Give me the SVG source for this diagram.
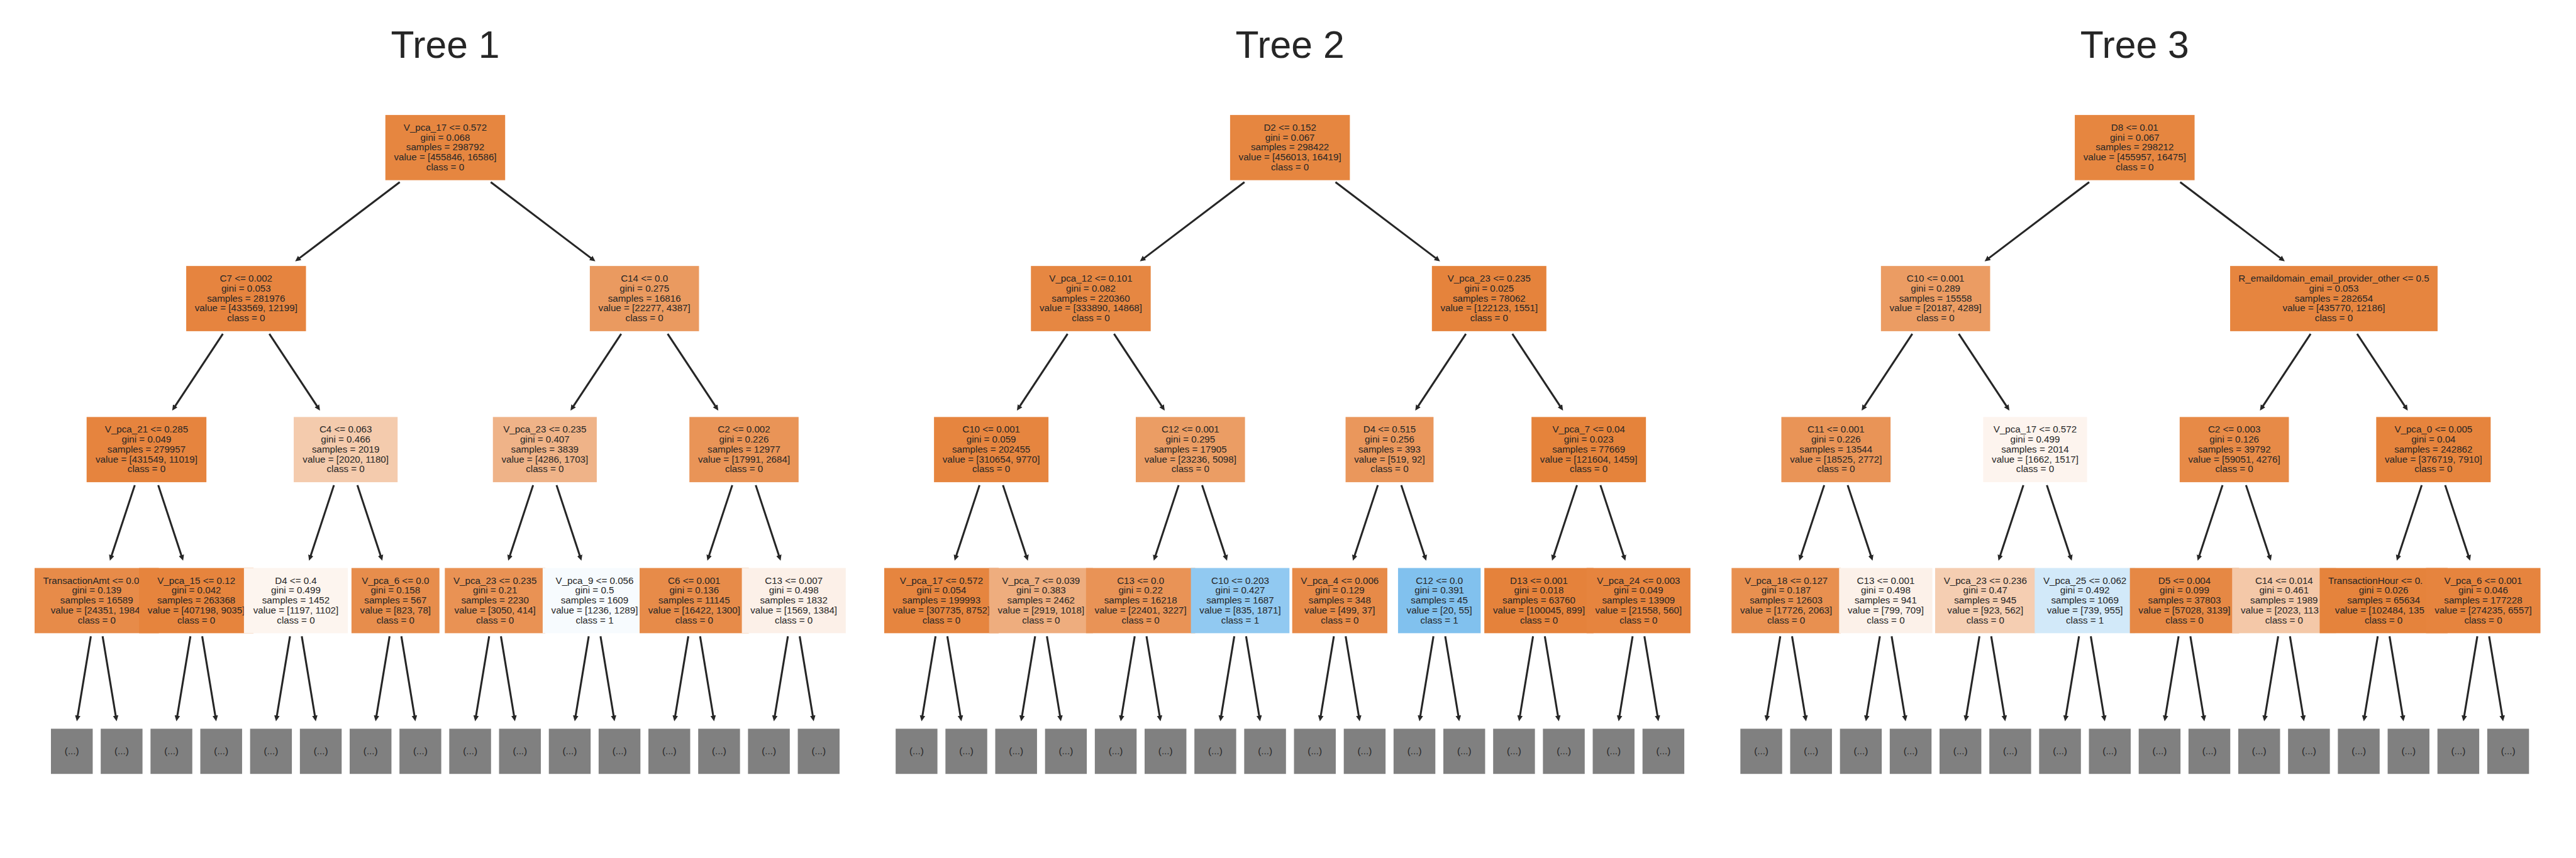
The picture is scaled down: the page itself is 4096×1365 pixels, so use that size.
<svg xmlns="http://www.w3.org/2000/svg" width="4096" height="1365" viewBox="0 0 4096 1365">
<style>
.t{font-family:"Liberation Sans",Arial,sans-serif;font-size:16.67px;fill:#262626;text-anchor:middle}
.s{text-anchor:start}
.title{font-family:"Liberation Sans",Arial,sans-serif;font-size:66.67px;fill:#262626;text-anchor:middle}
.lf{fill:#808080}
.e{stroke:#262626;stroke-width:3.4;fill:none;marker-end:url(#ah)}
</style>
<defs>
<marker id="ah" markerUnits="userSpaceOnUse" markerWidth="12" markerHeight="12" viewBox="0 -6 12 12" refX="1" refY="0" orient="auto"><path d="M0,-4.8 L10,0 L0,4.8 z" fill="#262626"/></marker>
</defs>
<rect width="4096" height="1365" fill="#ffffff"/>
<g transform="scale(0.91)">
<g id="titles">
<text class="title" x="778" y="101">Tree 1</text>
<text class="title" x="2254" y="101">Tree 2</text>
<text class="title" x="3730" y="101">Tree 3</text>
</g>
<g id="connectors">
<g id="t1-edges" transform="translate(778,0)">
<line class="e" x1="-79.5" y1="318.3" x2="-255.1" y2="451.5"/><line class="e" x1="79.5" y1="318.3" x2="255.1" y2="451.5"/>
<line class="e" x1="-388.6" y1="583.6" x2="-472.2" y2="710.4"/><line class="e" x1="-307.4" y1="583.6" x2="-223.8" y2="710.4"/><line class="e" x1="307.4" y1="583.6" x2="223.8" y2="710.4"/><line class="e" x1="388.6" y1="583.6" x2="472.2" y2="710.4"/>
<line class="e" x1="-542.5" y1="848.2" x2="-583.2" y2="971.8"/><line class="e" x1="-501.5" y1="848.2" x2="-460.8" y2="971.8"/><line class="e" x1="-194.5" y1="848.2" x2="-235.2" y2="971.8"/><line class="e" x1="-153.5" y1="848.2" x2="-112.8" y2="971.8"/><line class="e" x1="153.5" y1="848.2" x2="112.8" y2="971.8"/><line class="e" x1="194.5" y1="848.2" x2="235.2" y2="971.8"/><line class="e" x1="501.5" y1="848.2" x2="460.8" y2="971.8"/><line class="e" x1="542.5" y1="848.2" x2="583.2" y2="971.8"/>
<line class="e" x1="-619.3" y1="1112.4" x2="-642.3" y2="1252"/><line class="e" x1="-598.7" y1="1112.4" x2="-575.7" y2="1252"/><line class="e" x1="-445.3" y1="1112.4" x2="-468.3" y2="1252"/><line class="e" x1="-424.7" y1="1112.4" x2="-401.7" y2="1252"/><line class="e" x1="-271.3" y1="1112.4" x2="-294.3" y2="1252"/><line class="e" x1="-250.7" y1="1112.4" x2="-227.7" y2="1252"/><line class="e" x1="-97.3" y1="1112.4" x2="-120.3" y2="1252"/><line class="e" x1="-76.7" y1="1112.4" x2="-53.7" y2="1252"/><line class="e" x1="76.7" y1="1112.4" x2="53.7" y2="1252"/><line class="e" x1="97.3" y1="1112.4" x2="120.3" y2="1252"/><line class="e" x1="250.7" y1="1112.4" x2="227.7" y2="1252"/><line class="e" x1="271.3" y1="1112.4" x2="294.3" y2="1252"/><line class="e" x1="424.7" y1="1112.4" x2="401.7" y2="1252"/><line class="e" x1="445.3" y1="1112.4" x2="468.3" y2="1252"/><line class="e" x1="598.7" y1="1112.4" x2="575.7" y2="1252"/><line class="e" x1="619.3" y1="1112.4" x2="642.3" y2="1252"/>
</g>
<g id="t2-edges" transform="translate(2254,0)">
<line class="e" x1="-79.5" y1="318.3" x2="-255.1" y2="451.5"/><line class="e" x1="79.5" y1="318.3" x2="255.1" y2="451.5"/>
<line class="e" x1="-388.6" y1="583.6" x2="-472.2" y2="710.4"/><line class="e" x1="-307.4" y1="583.6" x2="-223.8" y2="710.4"/><line class="e" x1="307.4" y1="583.6" x2="223.8" y2="710.4"/><line class="e" x1="388.6" y1="583.6" x2="472.2" y2="710.4"/>
<line class="e" x1="-542.5" y1="848.2" x2="-583.2" y2="971.8"/><line class="e" x1="-501.5" y1="848.2" x2="-460.8" y2="971.8"/><line class="e" x1="-194.5" y1="848.2" x2="-235.2" y2="971.8"/><line class="e" x1="-153.5" y1="848.2" x2="-112.8" y2="971.8"/><line class="e" x1="153.5" y1="848.2" x2="112.8" y2="971.8"/><line class="e" x1="194.5" y1="848.2" x2="235.2" y2="971.8"/><line class="e" x1="501.5" y1="848.2" x2="460.8" y2="971.8"/><line class="e" x1="542.5" y1="848.2" x2="583.2" y2="971.8"/>
<line class="e" x1="-619.3" y1="1112.4" x2="-642.3" y2="1252"/><line class="e" x1="-598.7" y1="1112.4" x2="-575.7" y2="1252"/><line class="e" x1="-445.3" y1="1112.4" x2="-468.3" y2="1252"/><line class="e" x1="-424.7" y1="1112.4" x2="-401.7" y2="1252"/><line class="e" x1="-271.3" y1="1112.4" x2="-294.3" y2="1252"/><line class="e" x1="-250.7" y1="1112.4" x2="-227.7" y2="1252"/><line class="e" x1="-97.3" y1="1112.4" x2="-120.3" y2="1252"/><line class="e" x1="-76.7" y1="1112.4" x2="-53.7" y2="1252"/><line class="e" x1="76.7" y1="1112.4" x2="53.7" y2="1252"/><line class="e" x1="97.3" y1="1112.4" x2="120.3" y2="1252"/><line class="e" x1="250.7" y1="1112.4" x2="227.7" y2="1252"/><line class="e" x1="271.3" y1="1112.4" x2="294.3" y2="1252"/><line class="e" x1="424.7" y1="1112.4" x2="401.7" y2="1252"/><line class="e" x1="445.3" y1="1112.4" x2="468.3" y2="1252"/><line class="e" x1="598.7" y1="1112.4" x2="575.7" y2="1252"/><line class="e" x1="619.3" y1="1112.4" x2="642.3" y2="1252"/>
</g>
<g id="t3-edges" transform="translate(3730,0)">
<line class="e" x1="-79.5" y1="318.3" x2="-255.1" y2="451.5"/><line class="e" x1="79.5" y1="318.3" x2="255.1" y2="451.5"/>
<line class="e" x1="-388.6" y1="583.6" x2="-472.2" y2="710.4"/><line class="e" x1="-307.4" y1="583.6" x2="-223.8" y2="710.4"/><line class="e" x1="307.4" y1="583.6" x2="223.8" y2="710.4"/><line class="e" x1="388.6" y1="583.6" x2="472.2" y2="710.4"/>
<line class="e" x1="-542.5" y1="848.2" x2="-583.2" y2="971.8"/><line class="e" x1="-501.5" y1="848.2" x2="-460.8" y2="971.8"/><line class="e" x1="-194.5" y1="848.2" x2="-235.2" y2="971.8"/><line class="e" x1="-153.5" y1="848.2" x2="-112.8" y2="971.8"/><line class="e" x1="153.5" y1="848.2" x2="112.8" y2="971.8"/><line class="e" x1="194.5" y1="848.2" x2="235.2" y2="971.8"/><line class="e" x1="501.5" y1="848.2" x2="460.8" y2="971.8"/><line class="e" x1="542.5" y1="848.2" x2="583.2" y2="971.8"/>
<line class="e" x1="-619.3" y1="1112.4" x2="-642.3" y2="1252"/><line class="e" x1="-598.7" y1="1112.4" x2="-575.7" y2="1252"/><line class="e" x1="-445.3" y1="1112.4" x2="-468.3" y2="1252"/><line class="e" x1="-424.7" y1="1112.4" x2="-401.7" y2="1252"/><line class="e" x1="-271.3" y1="1112.4" x2="-294.3" y2="1252"/><line class="e" x1="-250.7" y1="1112.4" x2="-227.7" y2="1252"/><line class="e" x1="-97.3" y1="1112.4" x2="-120.3" y2="1252"/><line class="e" x1="-76.7" y1="1112.4" x2="-53.7" y2="1252"/><line class="e" x1="76.7" y1="1112.4" x2="53.7" y2="1252"/><line class="e" x1="97.3" y1="1112.4" x2="120.3" y2="1252"/><line class="e" x1="250.7" y1="1112.4" x2="227.7" y2="1252"/><line class="e" x1="271.3" y1="1112.4" x2="294.3" y2="1252"/><line class="e" x1="424.7" y1="1112.4" x2="401.7" y2="1252"/><line class="e" x1="445.3" y1="1112.4" x2="468.3" y2="1252"/><line class="e" x1="598.7" y1="1112.4" x2="575.7" y2="1252"/><line class="e" x1="619.3" y1="1112.4" x2="642.3" y2="1252"/>
</g>
</g>

<g id="tree1" transform="translate(778,0)">
<g id="t1-n0" transform="translate(0,201)"><rect x="-104.65" width="209.3" height="114" fill="#e68640"/><text class="t"><tspan x="0" y="27.5">V_pca_17 &lt;= 0.572</tspan><tspan x="0" y="44.8">gini = 0.068</tspan><tspan x="0" y="62.1">samples = 298792</tspan><tspan x="0" y="79.4">value = [455846, 16586]</tspan><tspan x="0" y="96.7">class = 0</tspan></text></g>
<g id="t1-n1" transform="translate(-348,465)"><rect x="-104.65" width="209.3" height="114" fill="#e6843f"/><text class="t"><tspan x="0" y="27.5">C7 &lt;= 0.002</tspan><tspan x="0" y="44.8">gini = 0.053</tspan><tspan x="0" y="62.1">samples = 281976</tspan><tspan x="0" y="79.4">value = [433569, 12199]</tspan><tspan x="0" y="96.7">class = 0</tspan></text></g>
<g id="t1-n2" transform="translate(348,465)"><rect x="-95.4" width="190.8" height="114" fill="#ea9a60"/><text class="t"><tspan x="0" y="27.5">C14 &lt;= 0.0</tspan><tspan x="0" y="44.8">gini = 0.275</tspan><tspan x="0" y="62.1">samples = 16816</tspan><tspan x="0" y="79.4">value = [22277, 4387]</tspan><tspan x="0" y="96.7">class = 0</tspan></text></g>
<g id="t1-n3" transform="translate(-522,729)"><rect x="-104.65" width="209.3" height="114" fill="#e6843e"/><text class="t"><tspan x="0" y="27.5">V_pca_21 &lt;= 0.285</tspan><tspan x="0" y="44.8">gini = 0.049</tspan><tspan x="0" y="62.1">samples = 279957</tspan><tspan x="0" y="79.4">value = [431549, 11019]</tspan><tspan x="0" y="96.7">class = 0</tspan></text></g>
<g id="t1-n4" transform="translate(-174,729)"><rect x="-90.75" width="181.5" height="114" fill="#f4cbad"/><text class="t"><tspan x="0" y="27.5">C4 &lt;= 0.063</tspan><tspan x="0" y="44.8">gini = 0.466</tspan><tspan x="0" y="62.1">samples = 2019</tspan><tspan x="0" y="79.4">value = [2020, 1180]</tspan><tspan x="0" y="96.7">class = 0</tspan></text></g>
<g id="t1-n5" transform="translate(174,729)"><rect x="-90.75" width="181.5" height="114" fill="#efb388"/><text class="t"><tspan x="0" y="27.5">V_pca_23 &lt;= 0.235</tspan><tspan x="0" y="44.8">gini = 0.407</tspan><tspan x="0" y="62.1">samples = 3839</tspan><tspan x="0" y="79.4">value = [4286, 1703]</tspan><tspan x="0" y="96.7">class = 0</tspan></text></g>
<g id="t1-n6" transform="translate(522,729)"><rect x="-95.4" width="190.8" height="114" fill="#e99457"/><text class="t"><tspan x="0" y="27.5">C2 &lt;= 0.002</tspan><tspan x="0" y="44.8">gini = 0.226</tspan><tspan x="0" y="62.1">samples = 12977</tspan><tspan x="0" y="79.4">value = [17991, 2684]</tspan><tspan x="0" y="96.7">class = 0</tspan></text></g>
<g id="t1-n7" transform="translate(-609,993)"><rect x="-108.55" width="217.1" height="114" fill="#e78b49"/><text class="t s" x="-93.6" y="27.5">TransactionAmt &lt;= 0.0</text><text class="t"><tspan x="0" y="44.8">gini = 0.139</tspan><tspan x="0" y="62.1">samples = 16589</tspan></text><text class="t s" x="-80.4" y="79.4">value = [24351, 1984</text><text class="t" x="0" y="96.7">class = 0</text></g>
<g id="t1-n8" transform="translate(-435,993)"><rect x="-100" width="200" height="114" fill="#e6843d"/><text class="t"><tspan x="0" y="27.5">V_pca_15 &lt;= 0.12</tspan><tspan x="0" y="44.8">gini = 0.042</tspan><tspan x="0" y="62.1">samples = 263368</tspan><tspan x="0" y="79.4">value = [407198, 9035]</tspan><tspan x="0" y="96.7">class = 0</tspan></text></g>
<g id="t1-n9" transform="translate(-261,993)"><rect x="-90.75" width="181.5" height="114" fill="#fdf5ef"/><text class="t"><tspan x="0" y="27.5">D4 &lt;= 0.4</tspan><tspan x="0" y="44.8">gini = 0.499</tspan><tspan x="0" y="62.1">samples = 1452</tspan><tspan x="0" y="79.4">value = [1197, 1102]</tspan><tspan x="0" y="96.7">class = 0</tspan></text></g>
<g id="t1-n10" transform="translate(-87,993)"><rect x="-76.85" width="153.7" height="114" fill="#e78d4c"/><text class="t"><tspan x="0" y="27.5">V_pca_6 &lt;= 0.0</tspan><tspan x="0" y="44.8">gini = 0.158</tspan><tspan x="0" y="62.1">samples = 567</tspan><tspan x="0" y="79.4">value = [823, 78]</tspan><tspan x="0" y="96.7">class = 0</tspan></text></g>
<g id="t1-n11" transform="translate(87,993)"><rect x="-87.75" width="175.5" height="114" fill="#e99254"/><text class="t"><tspan x="0" y="27.5">V_pca_23 &lt;= 0.235</tspan><tspan x="0" y="44.8">gini = 0.21</tspan><tspan x="0" y="62.1">samples = 2230</tspan><tspan x="0" y="79.4">value = [3050, 414]</tspan><tspan x="0" y="96.7">class = 0</tspan></text></g>
<g id="t1-n12" transform="translate(261,993)"><rect x="-90.75" width="181.5" height="114" fill="#f7fbfe"/><text class="t"><tspan x="0" y="27.5">V_pca_9 &lt;= 0.056</tspan><tspan x="0" y="44.8">gini = 0.5</tspan><tspan x="0" y="62.1">samples = 1609</tspan><tspan x="0" y="79.4">value = [1236, 1289]</tspan><tspan x="0" y="96.7">class = 1</tspan></text></g>
<g id="t1-n13" transform="translate(435,993)"><rect x="-95.4" width="190.8" height="114" fill="#e78b49"/><text class="t"><tspan x="0" y="27.5">C6 &lt;= 0.001</tspan><tspan x="0" y="44.8">gini = 0.136</tspan><tspan x="0" y="62.1">samples = 11145</tspan><tspan x="0" y="79.4">value = [16422, 1300]</tspan><tspan x="0" y="96.7">class = 0</tspan></text></g>
<g id="t1-n14" transform="translate(609,993)"><rect x="-90.75" width="181.5" height="114" fill="#fcf0e8"/><text class="t"><tspan x="0" y="27.5">C13 &lt;= 0.007</tspan><tspan x="0" y="44.8">gini = 0.498</tspan><tspan x="0" y="62.1">samples = 1832</tspan><tspan x="0" y="79.4">value = [1569, 1384]</tspan><tspan x="0" y="96.7">class = 0</tspan></text></g>
<g id="t1-l1" transform="translate(-652.5,1274)"><rect class="lf" x="-36.5" width="73" height="79"/><text class="t" y="44.5">(...)</text></g>
<g id="t1-l2" transform="translate(-565.5,1274)"><rect class="lf" x="-36.5" width="73" height="79"/><text class="t" y="44.5">(...)</text></g>
<g id="t1-l3" transform="translate(-478.5,1274)"><rect class="lf" x="-36.5" width="73" height="79"/><text class="t" y="44.5">(...)</text></g>
<g id="t1-l4" transform="translate(-391.5,1274)"><rect class="lf" x="-36.5" width="73" height="79"/><text class="t" y="44.5">(...)</text></g>
<g id="t1-l5" transform="translate(-304.5,1274)"><rect class="lf" x="-36.5" width="73" height="79"/><text class="t" y="44.5">(...)</text></g>
<g id="t1-l6" transform="translate(-217.5,1274)"><rect class="lf" x="-36.5" width="73" height="79"/><text class="t" y="44.5">(...)</text></g>
<g id="t1-l7" transform="translate(-130.5,1274)"><rect class="lf" x="-36.5" width="73" height="79"/><text class="t" y="44.5">(...)</text></g>
<g id="t1-l8" transform="translate(-43.5,1274)"><rect class="lf" x="-36.5" width="73" height="79"/><text class="t" y="44.5">(...)</text></g>
<g id="t1-l9" transform="translate(43.5,1274)"><rect class="lf" x="-36.5" width="73" height="79"/><text class="t" y="44.5">(...)</text></g>
<g id="t1-l10" transform="translate(130.5,1274)"><rect class="lf" x="-36.5" width="73" height="79"/><text class="t" y="44.5">(...)</text></g>
<g id="t1-l11" transform="translate(217.5,1274)"><rect class="lf" x="-36.5" width="73" height="79"/><text class="t" y="44.5">(...)</text></g>
<g id="t1-l12" transform="translate(304.5,1274)"><rect class="lf" x="-36.5" width="73" height="79"/><text class="t" y="44.5">(...)</text></g>
<g id="t1-l13" transform="translate(391.5,1274)"><rect class="lf" x="-36.5" width="73" height="79"/><text class="t" y="44.5">(...)</text></g>
<g id="t1-l14" transform="translate(478.5,1274)"><rect class="lf" x="-36.5" width="73" height="79"/><text class="t" y="44.5">(...)</text></g>
<g id="t1-l15" transform="translate(565.5,1274)"><rect class="lf" x="-36.5" width="73" height="79"/><text class="t" y="44.5">(...)</text></g>
<g id="t1-l16" transform="translate(652.5,1274)"><rect class="lf" x="-36.5" width="73" height="79"/><text class="t" y="44.5">(...)</text></g>
</g>

<g id="tree2" transform="translate(2254,0)">
<g id="t2-n0" transform="translate(0,201)"><rect x="-104.65" width="209.3" height="114" fill="#e68640"/><text class="t"><tspan x="0" y="27.5">D2 &lt;= 0.152</tspan><tspan x="0" y="44.8">gini = 0.067</tspan><tspan x="0" y="62.1">samples = 298422</tspan><tspan x="0" y="79.4">value = [456013, 16419]</tspan><tspan x="0" y="96.7">class = 0</tspan></text></g>
<g id="t2-n1" transform="translate(-348,465)"><rect x="-104.65" width="209.3" height="114" fill="#e68742"/><text class="t"><tspan x="0" y="27.5">V_pca_12 &lt;= 0.101</tspan><tspan x="0" y="44.8">gini = 0.082</tspan><tspan x="0" y="62.1">samples = 220360</tspan><tspan x="0" y="79.4">value = [333890, 14868]</tspan><tspan x="0" y="96.7">class = 0</tspan></text></g>
<g id="t2-n2" transform="translate(348,465)"><rect x="-100" width="200" height="114" fill="#e5833c"/><text class="t"><tspan x="0" y="27.5">V_pca_23 &lt;= 0.235</tspan><tspan x="0" y="44.8">gini = 0.025</tspan><tspan x="0" y="62.1">samples = 78062</tspan><tspan x="0" y="79.4">value = [122123, 1551]</tspan><tspan x="0" y="96.7">class = 0</tspan></text></g>
<g id="t2-n3" transform="translate(-522,729)"><rect x="-100" width="200" height="114" fill="#e6853f"/><text class="t"><tspan x="0" y="27.5">C10 &lt;= 0.001</tspan><tspan x="0" y="44.8">gini = 0.059</tspan><tspan x="0" y="62.1">samples = 202455</tspan><tspan x="0" y="79.4">value = [310654, 9770]</tspan><tspan x="0" y="96.7">class = 0</tspan></text></g>
<g id="t2-n4" transform="translate(-174,729)"><rect x="-95.4" width="190.8" height="114" fill="#eb9d64"/><text class="t"><tspan x="0" y="27.5">C12 &lt;= 0.001</tspan><tspan x="0" y="44.8">gini = 0.295</tspan><tspan x="0" y="62.1">samples = 17905</tspan><tspan x="0" y="79.4">value = [23236, 5098]</tspan><tspan x="0" y="96.7">class = 0</tspan></text></g>
<g id="t2-n5" transform="translate(174,729)"><rect x="-76.85" width="153.7" height="114" fill="#ea975c"/><text class="t"><tspan x="0" y="27.5">D4 &lt;= 0.515</tspan><tspan x="0" y="44.8">gini = 0.256</tspan><tspan x="0" y="62.1">samples = 393</tspan><tspan x="0" y="79.4">value = [519, 92]</tspan><tspan x="0" y="96.7">class = 0</tspan></text></g>
<g id="t2-n6" transform="translate(522,729)"><rect x="-100" width="200" height="114" fill="#e5833b"/><text class="t"><tspan x="0" y="27.5">V_pca_7 &lt;= 0.04</tspan><tspan x="0" y="44.8">gini = 0.023</tspan><tspan x="0" y="62.1">samples = 77669</tspan><tspan x="0" y="79.4">value = [121604, 1459]</tspan><tspan x="0" y="96.7">class = 0</tspan></text></g>
<g id="t2-n7" transform="translate(-609,993)"><rect x="-100" width="200" height="114" fill="#e6853f"/><text class="t"><tspan x="0" y="27.5">V_pca_17 &lt;= 0.572</tspan><tspan x="0" y="44.8">gini = 0.054</tspan><tspan x="0" y="62.1">samples = 199993</tspan><tspan x="0" y="79.4">value = [307735, 8752]</tspan><tspan x="0" y="96.7">class = 0</tspan></text></g>
<g id="t2-n8" transform="translate(-435,993)"><rect x="-90.75" width="181.5" height="114" fill="#eead7e"/><text class="t"><tspan x="0" y="27.5">V_pca_7 &lt;= 0.039</tspan><tspan x="0" y="44.8">gini = 0.383</tspan><tspan x="0" y="62.1">samples = 2462</tspan><tspan x="0" y="79.4">value = [2919, 1018]</tspan><tspan x="0" y="96.7">class = 0</tspan></text></g>
<g id="t2-n9" transform="translate(-261,993)"><rect x="-95.4" width="190.8" height="114" fill="#e99356"/><text class="t"><tspan x="0" y="27.5">C13 &lt;= 0.0</tspan><tspan x="0" y="44.8">gini = 0.22</tspan><tspan x="0" y="62.1">samples = 16218</tspan><tspan x="0" y="79.4">value = [22401, 3227]</tspan><tspan x="0" y="96.7">class = 0</tspan></text></g>
<g id="t2-n10" transform="translate(-87,993)"><rect x="-86.1" width="172.2" height="114" fill="#91c9f1"/><text class="t"><tspan x="0" y="27.5">C10 &lt;= 0.203</tspan><tspan x="0" y="44.8">gini = 0.427</tspan><tspan x="0" y="62.1">samples = 1687</tspan><tspan x="0" y="79.4">value = [835, 1871]</tspan><tspan x="0" y="96.7">class = 1</tspan></text></g>
<g id="t2-n11" transform="translate(87,993)"><rect x="-83.1" width="166.2" height="114" fill="#e78a48"/><text class="t"><tspan x="0" y="27.5">V_pca_4 &lt;= 0.006</tspan><tspan x="0" y="44.8">gini = 0.129</tspan><tspan x="0" y="62.1">samples = 348</tspan><tspan x="0" y="79.4">value = [499, 37]</tspan><tspan x="0" y="96.7">class = 0</tspan></text></g>
<g id="t2-n12" transform="translate(261,993)"><rect x="-72.2" width="144.4" height="114" fill="#81c1ee"/><text class="t"><tspan x="0" y="27.5">C12 &lt;= 0.0</tspan><tspan x="0" y="44.8">gini = 0.391</tspan><tspan x="0" y="62.1">samples = 45</tspan><tspan x="0" y="79.4">value = [20, 55]</tspan><tspan x="0" y="96.7">class = 1</tspan></text></g>
<g id="t2-n13" transform="translate(435,993)"><rect x="-95.4" width="190.8" height="114" fill="#e5823b"/><text class="t"><tspan x="0" y="27.5">D13 &lt;= 0.001</tspan><tspan x="0" y="44.8">gini = 0.018</tspan><tspan x="0" y="62.1">samples = 63760</tspan><tspan x="0" y="79.4">value = [100045, 899]</tspan><tspan x="0" y="96.7">class = 0</tspan></text></g>
<g id="t2-n14" transform="translate(609,993)"><rect x="-90.75" width="181.5" height="114" fill="#e6843e"/><text class="t"><tspan x="0" y="27.5">V_pca_24 &lt;= 0.003</tspan><tspan x="0" y="44.8">gini = 0.049</tspan><tspan x="0" y="62.1">samples = 13909</tspan><tspan x="0" y="79.4">value = [21558, 560]</tspan><tspan x="0" y="96.7">class = 0</tspan></text></g>
<g id="t2-l1" transform="translate(-652.5,1274)"><rect class="lf" x="-36.5" width="73" height="79"/><text class="t" y="44.5">(...)</text></g>
<g id="t2-l2" transform="translate(-565.5,1274)"><rect class="lf" x="-36.5" width="73" height="79"/><text class="t" y="44.5">(...)</text></g>
<g id="t2-l3" transform="translate(-478.5,1274)"><rect class="lf" x="-36.5" width="73" height="79"/><text class="t" y="44.5">(...)</text></g>
<g id="t2-l4" transform="translate(-391.5,1274)"><rect class="lf" x="-36.5" width="73" height="79"/><text class="t" y="44.5">(...)</text></g>
<g id="t2-l5" transform="translate(-304.5,1274)"><rect class="lf" x="-36.5" width="73" height="79"/><text class="t" y="44.5">(...)</text></g>
<g id="t2-l6" transform="translate(-217.5,1274)"><rect class="lf" x="-36.5" width="73" height="79"/><text class="t" y="44.5">(...)</text></g>
<g id="t2-l7" transform="translate(-130.5,1274)"><rect class="lf" x="-36.5" width="73" height="79"/><text class="t" y="44.5">(...)</text></g>
<g id="t2-l8" transform="translate(-43.5,1274)"><rect class="lf" x="-36.5" width="73" height="79"/><text class="t" y="44.5">(...)</text></g>
<g id="t2-l9" transform="translate(43.5,1274)"><rect class="lf" x="-36.5" width="73" height="79"/><text class="t" y="44.5">(...)</text></g>
<g id="t2-l10" transform="translate(130.5,1274)"><rect class="lf" x="-36.5" width="73" height="79"/><text class="t" y="44.5">(...)</text></g>
<g id="t2-l11" transform="translate(217.5,1274)"><rect class="lf" x="-36.5" width="73" height="79"/><text class="t" y="44.5">(...)</text></g>
<g id="t2-l12" transform="translate(304.5,1274)"><rect class="lf" x="-36.5" width="73" height="79"/><text class="t" y="44.5">(...)</text></g>
<g id="t2-l13" transform="translate(391.5,1274)"><rect class="lf" x="-36.5" width="73" height="79"/><text class="t" y="44.5">(...)</text></g>
<g id="t2-l14" transform="translate(478.5,1274)"><rect class="lf" x="-36.5" width="73" height="79"/><text class="t" y="44.5">(...)</text></g>
<g id="t2-l15" transform="translate(565.5,1274)"><rect class="lf" x="-36.5" width="73" height="79"/><text class="t" y="44.5">(...)</text></g>
<g id="t2-l16" transform="translate(652.5,1274)"><rect class="lf" x="-36.5" width="73" height="79"/><text class="t" y="44.5">(...)</text></g>
</g>

<g id="tree3" transform="translate(3730,0)">
<g id="t3-n0" transform="translate(0,201)"><rect x="-104.65" width="209.3" height="114" fill="#e68640"/><text class="t"><tspan x="0" y="27.5">D8 &lt;= 0.01</tspan><tspan x="0" y="44.8">gini = 0.067</tspan><tspan x="0" y="62.1">samples = 298212</tspan><tspan x="0" y="79.4">value = [455957, 16475]</tspan><tspan x="0" y="96.7">class = 0</tspan></text></g>
<g id="t3-n1" transform="translate(-348,465)"><rect x="-95.4" width="190.8" height="114" fill="#eb9c63"/><text class="t"><tspan x="0" y="27.5">C10 &lt;= 0.001</tspan><tspan x="0" y="44.8">gini = 0.289</tspan><tspan x="0" y="62.1">samples = 15558</tspan><tspan x="0" y="79.4">value = [20187, 4289]</tspan><tspan x="0" y="96.7">class = 0</tspan></text></g>
<g id="t3-n2" transform="translate(348,465)"><rect x="-181.25" width="362.5" height="114" fill="#e6853f"/><text class="t"><tspan x="0" y="27.5">R_emaildomain_email_provider_other &lt;= 0.5</tspan><tspan x="0" y="44.8">gini = 0.053</tspan><tspan x="0" y="62.1">samples = 282654</tspan><tspan x="0" y="79.4">value = [435770, 12186]</tspan><tspan x="0" y="96.7">class = 0</tspan></text></g>
<g id="t3-n3" transform="translate(-522,729)"><rect x="-95.4" width="190.8" height="114" fill="#e99457"/><text class="t"><tspan x="0" y="27.5">C11 &lt;= 0.001</tspan><tspan x="0" y="44.8">gini = 0.226</tspan><tspan x="0" y="62.1">samples = 13544</tspan><tspan x="0" y="79.4">value = [18525, 2772]</tspan><tspan x="0" y="96.7">class = 0</tspan></text></g>
<g id="t3-n4" transform="translate(-174,729)"><rect x="-90.75" width="181.5" height="114" fill="#fdf4ee"/><text class="t"><tspan x="0" y="27.5">V_pca_17 &lt;= 0.572</tspan><tspan x="0" y="44.8">gini = 0.499</tspan><tspan x="0" y="62.1">samples = 2014</tspan><tspan x="0" y="79.4">value = [1662, 1517]</tspan><tspan x="0" y="96.7">class = 0</tspan></text></g>
<g id="t3-n5" transform="translate(174,729)"><rect x="-95.4" width="190.8" height="114" fill="#e78a47"/><text class="t"><tspan x="0" y="27.5">C2 &lt;= 0.003</tspan><tspan x="0" y="44.8">gini = 0.126</tspan><tspan x="0" y="62.1">samples = 39792</tspan><tspan x="0" y="79.4">value = [59051, 4276]</tspan><tspan x="0" y="96.7">class = 0</tspan></text></g>
<g id="t3-n6" transform="translate(522,729)"><rect x="-100" width="200" height="114" fill="#e6843d"/><text class="t"><tspan x="0" y="27.5">V_pca_0 &lt;= 0.005</tspan><tspan x="0" y="44.8">gini = 0.04</tspan><tspan x="0" y="62.1">samples = 242862</tspan><tspan x="0" y="79.4">value = [376719, 7910]</tspan><tspan x="0" y="96.7">class = 0</tspan></text></g>
<g id="t3-n7" transform="translate(-609,993)"><rect x="-95.4" width="190.8" height="114" fill="#e89050"/><text class="t"><tspan x="0" y="27.5">V_pca_18 &lt;= 0.127</tspan><tspan x="0" y="44.8">gini = 0.187</tspan><tspan x="0" y="62.1">samples = 12603</tspan><tspan x="0" y="79.4">value = [17726, 2063]</tspan><tspan x="0" y="96.7">class = 0</tspan></text></g>
<g id="t3-n8" transform="translate(-435,993)"><rect x="-81.5" width="163" height="114" fill="#fcf1e9"/><text class="t"><tspan x="0" y="27.5">C13 &lt;= 0.001</tspan><tspan x="0" y="44.8">gini = 0.498</tspan><tspan x="0" y="62.1">samples = 941</tspan><tspan x="0" y="79.4">value = [799, 709]</tspan><tspan x="0" y="96.7">class = 0</tspan></text></g>
<g id="t3-n9" transform="translate(-261,993)"><rect x="-87.75" width="175.5" height="114" fill="#f5ceb2"/><text class="t"><tspan x="0" y="27.5">V_pca_23 &lt;= 0.236</tspan><tspan x="0" y="44.8">gini = 0.47</tspan><tspan x="0" y="62.1">samples = 945</tspan><tspan x="0" y="79.4">value = [923, 562]</tspan><tspan x="0" y="96.7">class = 0</tspan></text></g>
<g id="t3-n10" transform="translate(-87,993)"><rect x="-87.75" width="175.5" height="114" fill="#d2e9f9"/><text class="t"><tspan x="0" y="27.5">V_pca_25 &lt;= 0.062</tspan><tspan x="0" y="44.8">gini = 0.492</tspan><tspan x="0" y="62.1">samples = 1069</tspan><tspan x="0" y="79.4">value = [739, 955]</tspan><tspan x="0" y="96.7">class = 1</tspan></text></g>
<g id="t3-n11" transform="translate(87,993)"><rect x="-95.4" width="190.8" height="114" fill="#e68844"/><text class="t"><tspan x="0" y="27.5">D5 &lt;= 0.004</tspan><tspan x="0" y="44.8">gini = 0.099</tspan><tspan x="0" y="62.1">samples = 37803</tspan><tspan x="0" y="79.4">value = [57028, 3139]</tspan><tspan x="0" y="96.7">class = 0</tspan></text></g>
<g id="t3-n12" transform="translate(261,993)"><rect x="-90.75" width="181.5" height="114" fill="#f4c8a8"/><text class="t"><tspan x="0" y="27.5">C14 &lt;= 0.014</tspan><tspan x="0" y="44.8">gini = 0.461</tspan><tspan x="0" y="62.1">samples = 1989</tspan></text><text class="t s" x="-75.75" y="79.4">value = [2023, 113</text><text class="t" x="0" y="96.7">class = 0</text></g>
<g id="t3-n13" transform="translate(435,993)"><rect x="-111.8" width="223.6" height="114" fill="#e5833c"/><text class="t s" x="-96.8" y="27.5">TransactionHour &lt;= 0.</text><text class="t"><tspan x="0" y="44.8">gini = 0.026</tspan><tspan x="0" y="62.1">samples = 65634</tspan></text><text class="t s" x="-85" y="79.4">value = [102484, 135</text><text class="t" x="0" y="96.7">class = 0</text></g>
<g id="t3-n14" transform="translate(609,993)"><rect x="-100" width="200" height="114" fill="#e6843e"/><text class="t"><tspan x="0" y="27.5">V_pca_6 &lt;= 0.001</tspan><tspan x="0" y="44.8">gini = 0.046</tspan><tspan x="0" y="62.1">samples = 177228</tspan><tspan x="0" y="79.4">value = [274235, 6557]</tspan><tspan x="0" y="96.7">class = 0</tspan></text></g>
<g id="t3-l1" transform="translate(-652.5,1274)"><rect class="lf" x="-36.5" width="73" height="79"/><text class="t" y="44.5">(...)</text></g>
<g id="t3-l2" transform="translate(-565.5,1274)"><rect class="lf" x="-36.5" width="73" height="79"/><text class="t" y="44.5">(...)</text></g>
<g id="t3-l3" transform="translate(-478.5,1274)"><rect class="lf" x="-36.5" width="73" height="79"/><text class="t" y="44.5">(...)</text></g>
<g id="t3-l4" transform="translate(-391.5,1274)"><rect class="lf" x="-36.5" width="73" height="79"/><text class="t" y="44.5">(...)</text></g>
<g id="t3-l5" transform="translate(-304.5,1274)"><rect class="lf" x="-36.5" width="73" height="79"/><text class="t" y="44.5">(...)</text></g>
<g id="t3-l6" transform="translate(-217.5,1274)"><rect class="lf" x="-36.5" width="73" height="79"/><text class="t" y="44.5">(...)</text></g>
<g id="t3-l7" transform="translate(-130.5,1274)"><rect class="lf" x="-36.5" width="73" height="79"/><text class="t" y="44.5">(...)</text></g>
<g id="t3-l8" transform="translate(-43.5,1274)"><rect class="lf" x="-36.5" width="73" height="79"/><text class="t" y="44.5">(...)</text></g>
<g id="t3-l9" transform="translate(43.5,1274)"><rect class="lf" x="-36.5" width="73" height="79"/><text class="t" y="44.5">(...)</text></g>
<g id="t3-l10" transform="translate(130.5,1274)"><rect class="lf" x="-36.5" width="73" height="79"/><text class="t" y="44.5">(...)</text></g>
<g id="t3-l11" transform="translate(217.5,1274)"><rect class="lf" x="-36.5" width="73" height="79"/><text class="t" y="44.5">(...)</text></g>
<g id="t3-l12" transform="translate(304.5,1274)"><rect class="lf" x="-36.5" width="73" height="79"/><text class="t" y="44.5">(...)</text></g>
<g id="t3-l13" transform="translate(391.5,1274)"><rect class="lf" x="-36.5" width="73" height="79"/><text class="t" y="44.5">(...)</text></g>
<g id="t3-l14" transform="translate(478.5,1274)"><rect class="lf" x="-36.5" width="73" height="79"/><text class="t" y="44.5">(...)</text></g>
<g id="t3-l15" transform="translate(565.5,1274)"><rect class="lf" x="-36.5" width="73" height="79"/><text class="t" y="44.5">(...)</text></g>
<g id="t3-l16" transform="translate(652.5,1274)"><rect class="lf" x="-36.5" width="73" height="79"/><text class="t" y="44.5">(...)</text></g>
</g>
</g>
</svg>
